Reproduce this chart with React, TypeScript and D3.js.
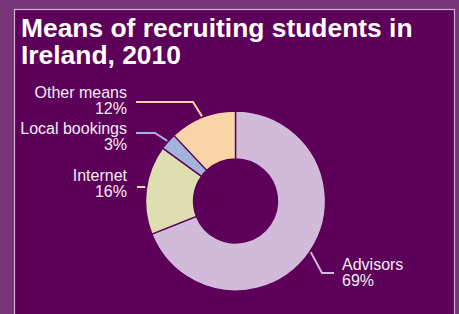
import React, { useRef, useEffect } from "react";
import * as d3 from "d3";

// chart data
const categories = ["Advisors", "Internet", "Local bookings", "Other means"];
const shares = [69, 16, 3, 12];
const sliceColors = ["#d2bada", "#dddfb0", "#a3b3da", "#f9d4a6"];
const titleLines = ["Means of recruiting students in", "Ireland, 2010"];

// hand placed label spots (text x/y, elbow of leader, end of leader)
const labelSpots = [
    { anchor: "start", x: 342, y: 270, elbowX: 322, elbowY: 273, endX: 334 },
    { anchor: "end", x: 127, y: 181, elbowX: null, elbowY: 187, endX: 137 },
    { anchor: "end", x: 127, y: 134, elbowX: 155, elbowY: 133, endX: 136 },
    { anchor: "end", x: 127, y: 98, elbowX: 193, elbowY: 102, endX: 136 },
];

function App() {
    const ref = useRef(null);

    useEffect(() => {
        draw();
    }, []);

    const draw = () => {
        const svg = d3.select(ref.current);
        svg.selectAll("*").remove();

        let svgWidth = 459;
        let svgHeight = 314;
        let cx = 235.5;
        let cy = 201;
        let outerR = 90;
        let innerR = 42;

        // backgrounds
        svg.append("rect")
            .attr("width", svgWidth)
            .attr("height", svgHeight)
            .attr("fill", "#783477");
        svg.append("rect")
            .attr("x", 14.5)
            .attr("y", 9.5)
            .attr("width", 440)
            .attr("height", svgHeight + 10)
            .attr("fill", "#5d0059")
            .attr("stroke", "#cfb1d0")
            .attr("stroke-width", 1.2);

        // title
        const title = svg.append("text")
            .attr("font-family", "Liberation Sans, Arial, sans-serif")
            .attr("font-weight", "bold")
            .attr("font-size", "26.4px")
            .attr("fill", "#ffffff");
        title.selectAll("tspan")
            .data(titleLines)
            .enter()
            .append("tspan")
            .attr("x", 21)
            .attr("y", (d, i) => 37 + i * 27)
            .text((d) => d);

        // donut
        const pie = d3
            .pie()
            .sort(null)
            .value((d) => d)
            .startAngle(0)
            .endAngle(2 * Math.PI);
        const arcs = pie(shares);
        const arc = d3.arc().innerRadius(innerR).outerRadius(outerR);

        const g = svg.append("g").attr("transform", "translate(" + cx + "," + cy + ")");
        g.selectAll("path")
            .data(arcs)
            .enter()
            .append("path")
            .attr("d", arc)
            .attr("fill", (d, i) => sliceColors[i])
            .attr("stroke", "#5d0059")
            .attr("stroke-width", 1.4);

        // leaders + labels
        arcs.forEach((a, i) => {
            const spot = labelSpots[i];
            const mid = (a.startAngle + a.endAngle) / 2;
            const sx = cx + (outerR + 1) * Math.sin(mid);
            const sy = cy - (outerR + 1) * Math.cos(mid);
            let pts;
            if (spot.elbowX === null) {
                pts = [
                    [sx, spot.elbowY],
                    [spot.endX, spot.elbowY],
                ];
            } else {
                pts = [
                    [sx, sy],
                    [spot.elbowX, spot.elbowY],
                    [spot.endX, spot.elbowY],
                ];
            }
            svg.append("path")
                .attr("d", d3.line()(pts))
                .attr("fill", "none")
                .attr("stroke", sliceColors[i])
                .attr("stroke-width", 2);

            const t = svg.append("text")
                .attr("text-anchor", spot.anchor)
                .attr("font-family", "Liberation Sans, Arial, sans-serif")
                .attr("font-size", "16px")
                .attr("fill", "#f3ecf3");
            t.append("tspan").attr("x", spot.x).attr("y", spot.y).text(categories[i]);
            t.append("tspan").attr("x", spot.x).attr("y", spot.y + 16).text(shares[i] + "%");
        });
    };

    return (
        <svg
            ref={ref}
            width={459}
            height={314}
            style={{ position: "absolute", left: 0, top: 0, display: "block" }}
        ></svg>
    );
}

export default App;
